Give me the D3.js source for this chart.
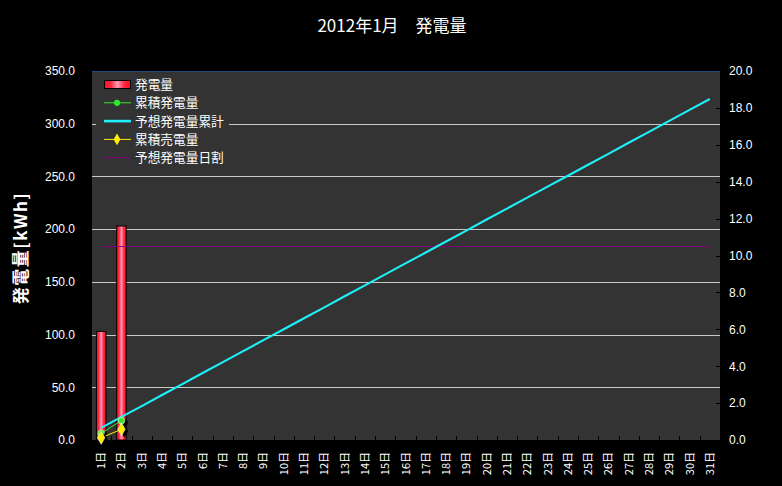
<!DOCTYPE html>
<html><head><meta charset="utf-8">
<script src="https://cdn.jsdelivr.net/npm/d3@7"></script>
<style>
html,body{margin:0;padding:0;background:#000;}
svg{display:block;}
text{font-family:"Liberation Sans","Noto Sans CJK JP",sans-serif;fill:#fff;}
.jp{font-family:"Noto Sans CJK JP","Liberation Sans",sans-serif;}
</style>
</head><body>
<script>
// ---- data ----
const days = ["1日","2日","3日","4日","5日","6日","7日","8日","9日","10日","11日","12日","13日","14日","15日","16日","17日","18日","19日","20日","21日","22日","23日","24日","25日","26日","27日","28日","29日","30日","31日"];
const generation = [103, 203];              // 発電量 (left axis, kWh)
const cumulativeGeneration = [0.36, 1.05];  // 累積発電量 (right axis)
const cumulativeSold = [0.12, 0.58];        // 累積売電量 (right axis)
const forecastCumulative = [0.66,1.25,1.84,2.44,3.03,3.63,4.22,4.82,5.41,6.00,6.60,7.19,7.79,8.38,8.98,9.57,10.16,10.76,11.35,11.95,12.54,13.14,13.73,14.32,14.92,15.51,16.11,16.70,17.30,17.89,18.48]; // 予想発電量累計 (right axis)
const forecastDaily = [184,184,184,184,184,184,184,184,184,184,184,184,184,184,184,184,184,184,184,184,184,184,184,184,184,184,184,184,184,184,184]; // 予想発電量日割 (left axis)
const leftTicks = [0,50,100,150,200,250,300,350];
const rightTicks = [0,2,4,6,8,10,12,14,16,18,20];
const legendLabels = ["発電量","累積発電量","予想発電量累計","累積売電量","予想発電量日割"];
const title = "2012年1月　発電量";
const yTitle = "発電量[kWh]";

// ---- layout ----
const W = 782, H = 486;
const L = 91, R = 720, T = 71, B = 440;
const svg = d3.select("body").append("svg").attr("width", W).attr("height", H);
svg.append("rect").attr("width", W).attr("height", H).attr("fill", "#000");

const x = d3.scaleBand().domain(days).range([L, R]);
const yL = d3.scaleLinear().domain([0, 350]).range([B, T]);
const yR = d3.scaleLinear().domain([0, 20]).range([B, T]);
const cx = i => x(days[i]) + x.bandwidth() / 2;

const defs = svg.append("defs");
const g = defs.append("linearGradient").attr("id", "barGrad").attr("x1", "0").attr("x2", "1").attr("y1", "0").attr("y2", "0");
g.append("stop").attr("offset", "0%").attr("stop-color", "#ff0a1e");
g.append("stop").attr("offset", "25%").attr("stop-color", "#ff2a44");
g.append("stop").attr("offset", "50%").attr("stop-color", "#ff9ab4");
g.append("stop").attr("offset", "75%").attr("stop-color", "#ff2a44");
g.append("stop").attr("offset", "100%").attr("stop-color", "#ff0a1e");

// plot background
svg.append("rect").attr("x", L + 1).attr("y", T).attr("width", R - L - 1).attr("height", B - T).attr("fill", "#333333");
svg.append("line").attr("x1", L + 1).attr("x2", R).attr("y1", T + 0.5).attr("y2", T + 0.5).attr("stroke", "#1f4a86").attr("stroke-width", 1);

// gridlines (left axis)
svg.append("g").selectAll("line").data(leftTicks.filter(v => v > 0 && v < 350)).join("line")
  .attr("x1", L + 1).attr("x2", R).attr("y1", d => Math.round(yL(d)) + 0.5).attr("y2", d => Math.round(yL(d)) + 0.5)
  .attr("stroke", "#c8c8c8").attr("stroke-width", 1);

// x tick marks at band boundaries
svg.append("g").selectAll("line").data(days.slice(1)).join("line")
  .attr("x1", d => Math.round(x(d)) + 0.5).attr("x2", d => Math.round(x(d)) + 0.5)
  .attr("y1", B - 4).attr("y2", B).attr("stroke", "#000");

// right tick marks
svg.append("g").selectAll("line").data(rightTicks.filter(v => v > 0 && v < 20)).join("line")
  .attr("x1", R - 4).attr("x2", R).attr("y1", d => Math.round(yR(d)) + 0.5).attr("y2", d => Math.round(yR(d)) + 0.5)
  .attr("stroke", "#000");

// bars
const bw = 9.5;
svg.append("g").selectAll("rect").data(generation).join("rect")
  .attr("x", (d, i) => cx(i) - bw / 2).attr("width", bw)
  .attr("y", d => yL(d)).attr("height", d => B - yL(d))
  .attr("fill", "url(#barGrad)").attr("stroke", "#000").attr("stroke-width", 1);

// forecast daily (purple)
svg.append("path").datum(forecastDaily)
  .attr("d", d3.line().x((d, i) => cx(i)).y(d => Math.round(yL(d)) + 0.5))
  .attr("fill", "none").attr("stroke", "#800080").attr("stroke-width", 1.2);

// forecast cumulative (cyan)
svg.append("path").datum(forecastCumulative)
  .attr("d", d3.line().x((d, i) => cx(i)).y(d => yR(d)))
  .attr("fill", "none").attr("stroke", "#1ef0f8").attr("stroke-width", 2.1);

// cumulative generation (green) and sold (yellow)
function series(data, color, shape) {
  const line = d3.line().x((d, i) => cx(i)).y(d => yR(d));
  svg.append("path").datum(data).attr("d", line).attr("fill", "none").attr("stroke", color).attr("stroke-width", 1);
  const sym = d3.symbol().type(shape).size(shape === d3.symbolDiamond ? 48 : 34);
  svg.append("g").selectAll("path").data(data).join("path")
    .attr("transform", (d, i) => `translate(${cx(i) + 3},${yR(d) + 2})`).attr("d", sym).attr("fill", "#000");
  svg.append("g").selectAll("path").data(data).join("path")
    .attr("transform", (d, i) => `translate(${cx(i)},${yR(d)})`).attr("d", sym)
    .attr("fill", color).attr("stroke", "#f4ffd0").attr("stroke-width", 0.6);
}
series(cumulativeGeneration, "#2ee82e", d3.symbolCircle);
series(cumulativeSold, "#ffee00", d3.symbolDiamond);

// axes labels
svg.append("g").selectAll("text").data(leftTicks).join("text")
  .attr("x", 75).attr("y", d => yL(d)).attr("dy", "0.36em").attr("text-anchor", "end")
  .attr("font-size", 12).text(d => d.toFixed(1));
svg.append("g").selectAll("text").data(rightTicks).join("text")
  .attr("x", 729).attr("y", d => yR(d)).attr("dy", "0.36em").attr("text-anchor", "start")
  .attr("font-size", 12).text(d => d.toFixed(1));
svg.append("g").selectAll("text").data(days).join("text")
  .attr("class", "jp")
  .attr("transform", (d, i) => `translate(${cx(i) + 4},452) rotate(-90)`)
  .attr("text-anchor", "end").attr("font-size", 11).text(d => d);

// titles
svg.append("text").attr("class", "jp").attr("x", 392).attr("y", 32).attr("text-anchor", "middle")
  .attr("font-size", 17).attr("font-weight", "normal").text(title);
svg.append("text").attr("class", "jp").attr("transform", "translate(27,248) rotate(-90)")
  .attr("text-anchor", "middle").attr("font-size", 17).attr("font-weight", "bold").attr("letter-spacing", 1.5).text(yTitle);

// legend
const lg = svg.append("g");
lg.append("rect").attr("x", 96).attr("y", 74).attr("width", 133).attr("height", 94).attr("fill", "#333333");
const rowY = i => 84.5 + i * 18.3;
lg.append("rect").attr("x", 104.5).attr("y", rowY(0) - 4).attr("width", 26).attr("height", 8)
  .attr("fill", "url(#barGrad)").attr("stroke", "#000");
lg.append("line").attr("x1", 104).attr("x2", 131).attr("y1", rowY(1)).attr("y2", rowY(1)).attr("stroke", "#2ee82e");
lg.append("path").attr("transform", `translate(117,${rowY(1)})`).attr("d", d3.symbol().type(d3.symbolCircle).size(30)).attr("fill", "#2ee82e");
lg.append("line").attr("x1", 104).attr("x2", 131).attr("y1", rowY(2)).attr("y2", rowY(2)).attr("stroke", "#1ef0f8").attr("stroke-width", 2.6);
lg.append("line").attr("x1", 104).attr("x2", 131).attr("y1", rowY(3)).attr("y2", rowY(3)).attr("stroke", "#ffee00");
lg.append("path").attr("transform", `translate(117,${rowY(3)})`).attr("d", d3.symbol().type(d3.symbolDiamond).size(40)).attr("fill", "#ffee00");
lg.append("line").attr("x1", 104).attr("x2", 131).attr("y1", rowY(4)).attr("y2", rowY(4)).attr("stroke", "#800080");
lg.selectAll("text.lg").data(legendLabels).join("text").attr("class", "jp")
  .attr("x", 135).attr("y", (d, i) => rowY(i)).attr("dy", "0.36em").attr("font-size", 12.7).text(d => d);
</script>
</body></html>
